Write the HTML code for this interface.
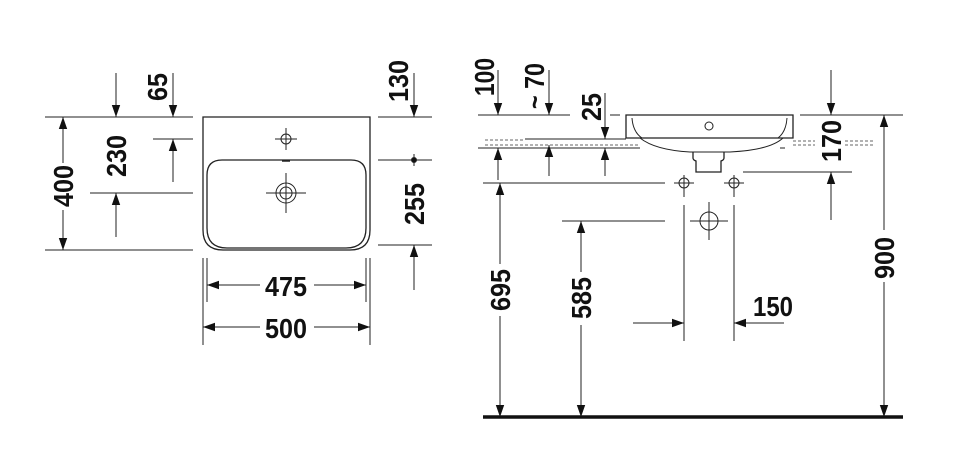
<!DOCTYPE html>
<html><head><meta charset="utf-8"><style>
html,body{margin:0;padding:0;background:#fff;}
svg{display:block}
text{font-family:"Liberation Sans Narrow","Liberation Sans",sans-serif;font-weight:bold;font-size:28px;fill:#111;}
</style></head><body>
<svg width="960" height="468" viewBox="0 0 960 468" xmlns="http://www.w3.org/2000/svg">
<defs>
<marker id="a" viewBox="0 0 10 10" refX="10" refY="5" markerWidth="12" markerHeight="12" markerUnits="userSpaceOnUse" orient="auto"><path d="M0,1.5 L10,5 L0,8.5z" fill="#111"/></marker>
</defs>
<g stroke="#222" stroke-width="1" fill="none">
<path d="M203,117 H370 V230 Q370,250 350,250 H223 Q203,250 203,230 Z" stroke-width="1.3"/>
<path d="M222,160 H351 Q366,160 366,175 V228 Q366,248 346,248 H227 Q207,248 207,228 V175 Q207,160 222,160 Z" stroke-width="1.3"/>
<circle cx="286" cy="139" r="5"/><path d="M275,139 H297 M286,128 V150"/>
<circle cx="286" cy="193" r="10"/><circle cx="286" cy="193" r="6"/><path d="M266,193 H306 M286,173 V213"/>
<path d="M282,161 H290" stroke-width="1.5"/>
<path d="M45,117 H193 M45,250 H193 M153,139 H193 M90,193 H193"/>
<path d="M63,163 V117" marker-end="url(#a)"/><path d="M63,210 V250" marker-end="url(#a)"/>
<path d="M116,73 V117" marker-end="url(#a)"/><path d="M173,73 V117" marker-end="url(#a)"/>
<path d="M173,182 V139" marker-end="url(#a)"/><path d="M116,237 V193" marker-end="url(#a)"/>
<path d="M378,117 H432 M378,160 H432 M378,245 H432"/>
<path d="M414,73 V117" marker-end="url(#a)"/><path d="M414,290 V245" marker-end="url(#a)"/>
<path d="M414,154 V166"/><circle cx="414" cy="160" r="2.5" fill="#111"/>
<path d="M203,258 V345 M370,258 V345 M207,258 V302 M366,258 V302"/>
<path d="M260,285 H207" marker-end="url(#a)"/><path d="M314,285 H366" marker-end="url(#a)"/>
<path d="M260,327 H203" marker-end="url(#a)"/><path d="M314,327 H370" marker-end="url(#a)"/>
<path d="M626,115 H793 V138 H626 Z" stroke-width="1.3"/>
<path d="M632,118 Q633,132 642,138"/><path d="M787,118 Q786,132 778,138"/>
<path d="M640,138 Q655,150 690,152 H730 Q770,150 783,138"/>
<circle cx="709" cy="126" r="4"/>
<path d="M693,152 V158 Q693,160 696,161 V172 H721 V161 Q724,160 724,158 V152" stroke-width="1.3"/>
<path d="M478,115 H570 M610,115 H620 M800,115 H903"/>
<path d="M525,139 H626 M478,148 H640 M780,148 H785"/>
<path d="M485,140 H525 M485,145 H640 M793,141 H815 M793,145 H815 M845,141 H875 M845,145 H875" stroke-dasharray="3,2" stroke="#666"/>
<path d="M498,70 V115" marker-end="url(#a)"/>
<path d="M549,70 V115" marker-end="url(#a)"/>
<path d="M605,93 V139" marker-end="url(#a)"/>
<path d="M549,176 V145" marker-end="url(#a)"/>
<path d="M605,176 V148" marker-end="url(#a)"/>
<path d="M498,180 V148" marker-end="url(#a)"/>
<path d="M483,183 H665 M743,172 H852"/>
<circle cx="684" cy="183" r="5"/><path d="M674,183 H694 M684,175 V197"/>
<circle cx="734" cy="183" r="5"/><path d="M724,183 H744 M734,175 V197"/>
<path d="M831,70 V115" marker-end="url(#a)"/><path d="M831,220 V172" marker-end="url(#a)"/>
<path d="M884,230 V115" marker-end="url(#a)"/><path d="M884,282 V417" marker-end="url(#a)"/>
<path d="M500,264 V183" marker-end="url(#a)"/><path d="M500,316 V417" marker-end="url(#a)"/>
<path d="M562,221 H665"/>
<path d="M581,272 V221" marker-end="url(#a)"/><path d="M581,325 V417" marker-end="url(#a)"/>
<circle cx="709" cy="221" r="9"/><path d="M690,221 H728 M709,202 V240"/>
<path d="M684,205 V341 M734,205 V341"/>
<path d="M633,323 H684" marker-end="url(#a)"/><path d="M784,323 H734" marker-end="url(#a)"/>
<path d="M483,417 H903" stroke="#111" stroke-width="3.5"/>
</g>
<g>
<text transform="translate(73,186) rotate(-90)" text-anchor="middle" textLength="42" lengthAdjust="spacingAndGlyphs">400</text>
<text transform="translate(167,87) rotate(-90)" text-anchor="middle" textLength="28" lengthAdjust="spacingAndGlyphs">65</text>
<text transform="translate(126,156) rotate(-90)" text-anchor="middle" textLength="42" lengthAdjust="spacingAndGlyphs">230</text>
<text transform="translate(408,81) rotate(-90)" text-anchor="middle" textLength="42" lengthAdjust="spacingAndGlyphs">130</text>
<text transform="translate(424,204) rotate(-90)" text-anchor="middle" textLength="42" lengthAdjust="spacingAndGlyphs">255</text>
<text x="286" y="296" text-anchor="middle" textLength="42" lengthAdjust="spacingAndGlyphs">475</text>
<text x="286" y="338" text-anchor="middle" textLength="42" lengthAdjust="spacingAndGlyphs">500</text>
<text transform="translate(494,77) rotate(-90)" text-anchor="middle" textLength="38" lengthAdjust="spacingAndGlyphs">100</text>
<text transform="translate(544,86) rotate(-90)" text-anchor="middle" textLength="46" lengthAdjust="spacingAndGlyphs">~ 70</text>
<text transform="translate(601,107) rotate(-90)" text-anchor="middle" textLength="28" lengthAdjust="spacingAndGlyphs">25</text>
<text transform="translate(841,141) rotate(-90)" text-anchor="middle" textLength="42" lengthAdjust="spacingAndGlyphs">170</text>
<text transform="translate(894,258) rotate(-90)" text-anchor="middle" textLength="42" lengthAdjust="spacingAndGlyphs">900</text>
<text transform="translate(510,290) rotate(-90)" text-anchor="middle" textLength="42" lengthAdjust="spacingAndGlyphs">695</text>
<text transform="translate(591,298) rotate(-90)" text-anchor="middle" textLength="42" lengthAdjust="spacingAndGlyphs">585</text>
<text x="773" y="316" text-anchor="middle" textLength="40" lengthAdjust="spacingAndGlyphs">150</text>
</g>
</svg>
</body></html>
